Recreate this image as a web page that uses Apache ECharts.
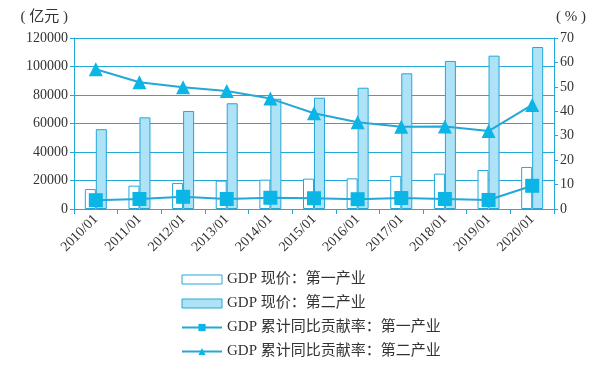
<!DOCTYPE html>
<html><head><meta charset="utf-8">
<script src="https://cdn.jsdelivr.net/npm/echarts@6/dist/echarts.min.js"></script>
<style>html,body{margin:0;padding:0;background:#fff}#c{width:596px;height:371px}</style>
</head><body><div id="c"></div>
<script>
const categories = ['2010/01','2011/01','2012/01','2013/01','2014/01','2015/01','2016/01','2017/01','2018/01','2019/01','2020/01'];
const gdpPrimary = [14000,16400,18200,19900,20600,21300,21500,23200,24800,27400,29500];
const gdpSecondary = [56000,64300,68800,74200,77400,78100,85100,95200,103900,107600,113700];
const contribPrimary = [3.6,4.1,5.0,4.1,4.6,4.4,4.0,4.5,4.1,3.7,9.5];
const contribSecondary = [57.2,51.9,49.8,48.3,45.2,39.2,35.5,33.7,33.8,31.9,42.6];
const leftTicks = {min:0,max:120000,interval:20000};
const rightTicks = {min:0,max:70,interval:10};
const names = ['GDP 现价：第一产业','GDP 现价：第二产业','GDP 累计同比贡献率：第一产业','GDP 累计同比贡献率：第二产业'];

const blue = '#23a8d8';
const serif = '"Liberation Serif", "Noto Sans CJK SC", serif';
const chart = echarts.init(document.getElementById('c'));
chart.setOption({
  animation:false,
  textStyle:{fontFamily:serif,color:'#333'},
  grid:{left:74,right:42,top:38,bottom:162},
  legend:{orient:'vertical',left:176,top:267,itemWidth:40,itemHeight:9,itemGap:9,
    itemStyle:{borderWidth:1},
    textStyle:{fontSize:15,color:'#333',fontFamily:serif},
    data:[{name:names[0],icon:'rect'},{name:names[1],icon:'rect'},{name:names[2]},{name:names[3]}]},
  xAxis:{type:'category',data:categories,boundaryGap:true,
    axisLine:{lineStyle:{color:blue}},
    axisTick:{show:true,lineStyle:{color:blue},length:5},
    axisLabel:{rotate:45,fontSize:14,color:'#333',margin:8,fontFamily:serif,interval:0}},
  yAxis:[
    {type:'value',min:leftTicks.min,max:leftTicks.max,interval:leftTicks.interval,
     name:'( 亿元 )',nameLocation:'end',nameGap:13,nameTextStyle:{fontSize:15,color:'#333',align:'right',padding:[0,6,0,0]},
     axisLine:{show:true,lineStyle:{color:blue}},axisTick:{show:true,lineStyle:{color:blue},length:4},
     axisLabel:{fontSize:14,color:'#333',margin:6,formatter:function(v){return String(v);}},
     splitLine:{lineStyle:{color:blue,width:1}}},
    {type:'value',min:rightTicks.min,max:rightTicks.max,interval:rightTicks.interval,
     name:'( % )',nameLocation:'end',nameGap:13,nameTextStyle:{fontSize:15,color:'#333',align:'left',padding:[0,0,0,2]},
     axisLine:{show:true,lineStyle:{color:blue}},axisTick:{show:true,lineStyle:{color:blue},length:4},
     axisLabel:{fontSize:14,color:'#333',margin:6},
     splitLine:{show:false}}
  ],
  series:[
    {name:names[0],type:'bar',data:gdpPrimary,barWidth:11,barGap:'0%',
     itemStyle:{color:'#ffffff',borderColor:blue,borderWidth:1}},
    {name:names[1],type:'bar',data:gdpSecondary,barWidth:11,
     itemStyle:{color:'#aee2f6',borderColor:blue,borderWidth:1}},
    {name:names[2],type:'line',yAxisIndex:1,data:contribPrimary,symbol:'rect',symbolSize:14,
     lineStyle:{color:blue,width:2},itemStyle:{color:'#0bb5e6'}},
    {name:names[3],type:'line',yAxisIndex:1,data:contribSecondary,symbol:'triangle',symbolSize:14,
     lineStyle:{color:blue,width:2},itemStyle:{color:'#0bb5e6'}}
  ]
});
</script></body></html>
